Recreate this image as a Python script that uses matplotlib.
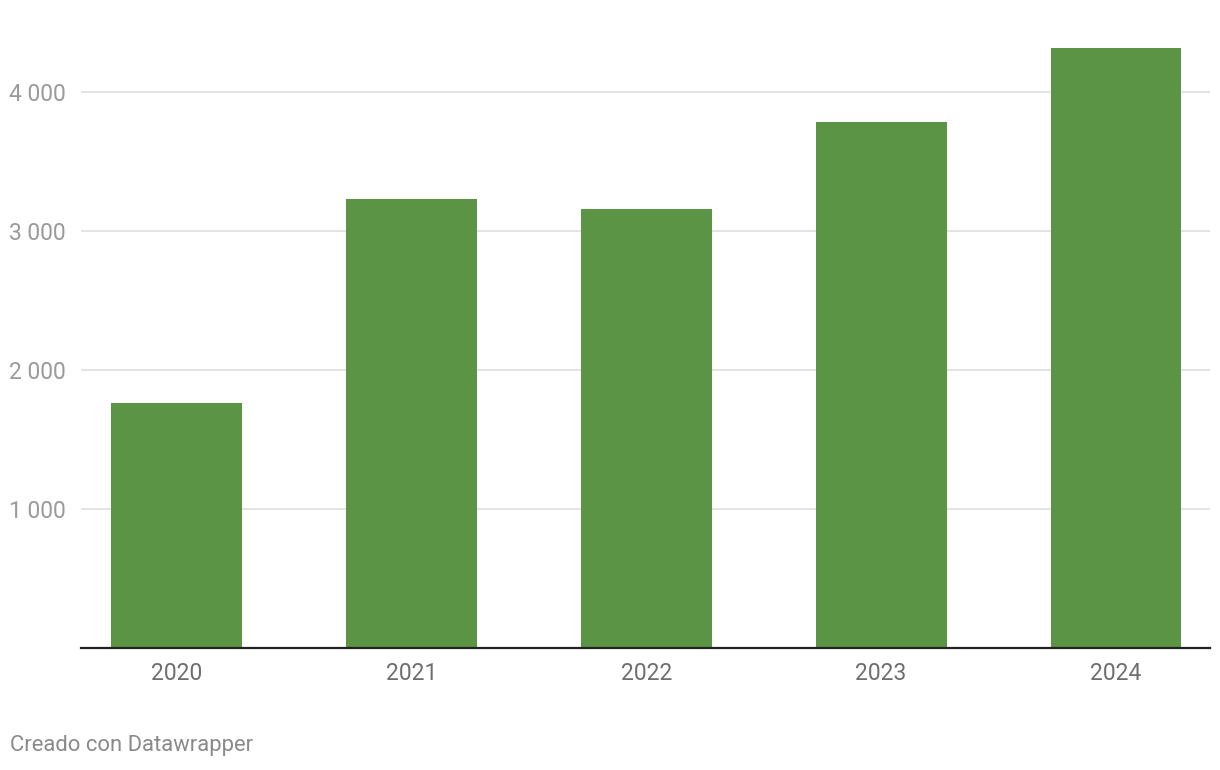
import numpy as np
import matplotlib.pyplot as plt

years = ['2020', '2021', '2022', '2023', '2024']
values = [1763, 3230, 3158, 3784, 4317]
yticks = [1000, 2000, 3000, 4000]
ytick_labels = ['1 000', '2 000', '3 000', '4 000']

plt.rcParams['font.family'] = ['Roboto', 'DejaVu Sans']

W, H = 1220, 770
fig = plt.figure(figsize=(W / 100, H / 100), dpi=100)
ax = fig.add_axes([81 / W, (H - 648) / H, (1210 - 81) / W, (648 - 30) / H])

x = np.arange(len(years))
ax.bar(x, values, width=0.557, color='#5b9445', zorder=3)

ax.set_xlim(-0.406, 4.4)
ax.set_ylim(0, 4446)

ax.set_yticks(yticks)
ax.set_yticklabels(ytick_labels)
ax.set_xticks(x)
ax.set_xticklabels(years)

ax.grid(axis='y', color='#e3e3e3', linewidth=1.4, zorder=0)
for s in ['top', 'right', 'left']:
    ax.spines[s].set_visible(False)
ax.spines['bottom'].set_color('#222222')
ax.spines['bottom'].set_linewidth(1.6)
ax.spines['bottom'].set_zorder(4)

ax.tick_params(axis='y', length=0, pad=11, labelsize=16.5, labelcolor='#9a9a9a')
ax.tick_params(axis='x', length=0, pad=10, labelsize=16.5, labelcolor='#6e6e6e')

fig.text(10 / W, 1 - 746 / H, 'Creado con Datawrapper', fontsize=15.8,
         color='#8a8a8a', ha='left', va='center')

fig.savefig('out.png', dpi=100)
